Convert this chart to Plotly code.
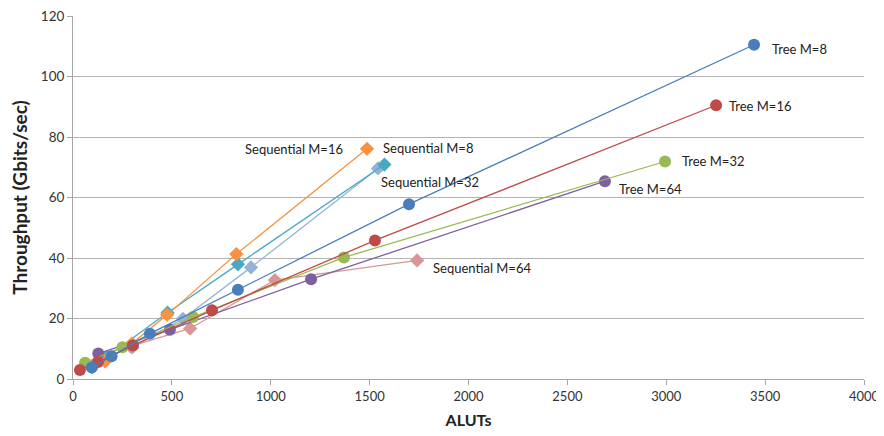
import plotly.graph_objects as go

# ---- data ----
series_names = ["Tree M=8", "Tree M=16", "Tree M=32", "Tree M=64",
                "Sequential M=8", "Sequential M=16", "Sequential M=32", "Sequential M=64"]

tree8_x = [95, 195, 389, 834, 1699, 3444]
tree8_y = [3.8, 7.5, 15.0, 29.5, 57.8, 110.5]
tree16_x = [35, 126, 303, 703, 1527, 3252]
tree16_y = [3.0, 5.6, 11.1, 22.7, 45.8, 90.5]
tree32_x = [61, 250, 607, 1370, 2994]
tree32_y = [5.4, 10.5, 20.5, 40.2, 71.9]
tree64_x = [128, 490, 1204, 2690]
tree64_y = [8.4, 16.3, 33.0, 65.4]
seq8_x = [96, 170, 478, 834, 1575]
seq8_y = [3.9, 7.3, 21.9, 37.9, 70.9]
seq16_x = [162, 298, 476, 826, 1487]
seq16_y = [5.8, 11.7, 21.2, 41.3, 76.1]
seq32_x = [300, 556, 900, 1542]
seq32_y = [10.5, 19.9, 36.9, 69.6]
seq64_x = [290, 592, 1021, 1740]
seq64_y = [10.8, 16.7, 32.7, 39.2]

xs = [tree8_x, tree16_x, tree32_x, tree64_x, seq8_x, seq16_x, seq32_x, seq64_x]
ys = [tree8_y, tree16_y, tree32_y, tree64_y, seq8_y, seq16_y, seq32_y, seq64_y]

x_ticks = [0, 500, 1000, 1500, 2000, 2500, 3000, 3500, 4000]
y_ticks = [0, 20, 40, 60, 80, 100, 120]

# ---- styles ----
colors = ["#4A7EBB", "#BE4B48", "#98B954", "#7D60A0",
          "#46AAC5", "#F69240", "#95B3D7", "#D99694"]
symbols = ["circle"] * 4 + ["diamond"] * 4
sizes = [12] * 4 + [11] * 4
# label offsets in pixels (xshift, yshift, xanchor)
label_pos = [(16, -4, "left"), (11, -1, "left"), (15, 1, "left"), (12, -8, "left"),
             (-3, 17, "left"), (-22, 0, "right"), (52, -14, "center"), (14, -8, "left")]

fig = go.Figure()
draw_order = [6, 4, 5, 7, 3, 2, 1, 0]
for i in draw_order:
    fig.add_trace(go.Scatter(
        x=xs[i], y=ys[i], name=series_names[i], mode="lines+markers",
        line=dict(color=colors[i], width=1.3),
        marker=dict(symbol=symbols[i], size=sizes[i], color=colors[i]),
        showlegend=False,
    ))

for i, name in enumerate(series_names):
    dx, dy, anc = label_pos[i]
    fig.add_annotation(x=xs[i][-1], y=ys[i][-1], text=name, showarrow=False,
                       xanchor=anc, yanchor="middle", xshift=dx, yshift=dy,
                       font=dict(family="Lato, Noto Sans, sans-serif", size=13, color="#222222"))

fig.update_layout(
    width=876, height=428,
    margin=dict(l=65, r=20, t=8, b=57, autoexpand=False),
    paper_bgcolor="white", plot_bgcolor="white",
    font=dict(family="Lato, Noto Sans, sans-serif", size=12, color="#333333"),
)
fig.update_xaxes(
    range=[0, 4000], tickvals=x_ticks, showgrid=False, zeroline=False, automargin=False,
    showline=True, linecolor="#A6A6A6", linewidth=1, ticklabeloverflow="allow",
    ticks="outside", ticklen=5, tickcolor="#A6A6A6",
    tickfont=dict(size=13, color="#333333"),
    title=dict(text="<b>ALUTs</b>", font=dict(size=16, color="#222222"), standoff=12),
)
fig.update_yaxes(
    range=[0, 120], tickvals=y_ticks, showgrid=True, gridcolor="#B3B3B3", gridwidth=1,
    zeroline=False, showline=True, linecolor="#A6A6A6", linewidth=1, automargin=False,
    ticklabeloverflow="allow",
    ticks="outside", ticklen=5, tickcolor="#A6A6A6",
    tickfont=dict(size=13.5, color="#333333"),
    title=dict(text="<b>Throughput (Gbits/sec)</b>", font=dict(size=19, color="#222222"), standoff=10),
)

fig.write_html("out.html")
